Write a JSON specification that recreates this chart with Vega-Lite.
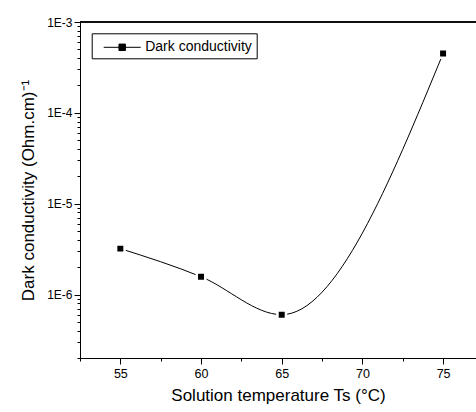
{
  "$schema": "https://vega.github.io/schema/vega-lite/v6.json",
  "autosize": {"type": "none"},
  "padding": {"left": 80, "top": 22, "right": 0, "bottom": 54},
  "width": 396,
  "height": 336,
  "background": "white",
  "data": {"values": [
    {"T": 55, "sigma": 3.2e-6},
    {"T": 60, "sigma": 1.57e-6},
    {"T": 65, "sigma": 6.0e-7},
    {"T": 75, "sigma": 4.5e-4}
  ]},
  "encoding": {
    "x": {
      "field": "T", "type": "quantitative",
      "scale": {"domain": [52.5, 77.04], "nice": false, "zero": false},
      "axis": {
        "title": "Solution temperature Ts (°C)",
        "values": [52.5, 55, 57.5, 60, 62.5, 65, 67.5, 70, 72.5, 75],
        "labelExpr": "datum.value % 5 == 0 ? datum.label : ''",
        "tickSize": {"condition": {"test": "datum.value % 5 == 0", "value": 6}, "value": 3},
        "grid": false,
        "domainColor": "black", "tickColor": "black", "labelColor": "black", "titleColor": "black",
        "labelFontSize": 12.5, "titleFontSize": 17, "titleFontWeight": "normal",
        "labelPadding": 3, "titlePadding": 8, "labelFlush": false, "labelOverlap": false
      }
    },
    "y": {
      "field": "sigma", "type": "quantitative",
      "scale": {"type": "log", "domain": [2e-7, 1e-3], "nice": false},
      "axis": {
        "title": "Dark conductivity (Ohm.cm)⁻¹",
        "values": [2e-7, 3e-7, 4e-7, 5e-7, 6e-7, 7e-7, 8e-7, 9e-7,
                   1e-6, 2e-6, 3e-6, 4e-6, 5e-6, 6e-6, 7e-6, 8e-6, 9e-6,
                   1e-5, 2e-5, 3e-5, 4e-5, 5e-5, 6e-5, 7e-5, 8e-5, 9e-5,
                   1e-4, 2e-4, 3e-4, 4e-4, 5e-4, 6e-4, 7e-4, 8e-4, 9e-4, 1e-3],
        "labelExpr": "abs(log(datum.value)/LN10 - round(log(datum.value)/LN10)) < 1e-6 ? '1E' + round(log(datum.value)/LN10) : ''",
        "tickSize": {"condition": {"test": "abs(log(datum.value)/LN10 - round(log(datum.value)/LN10)) < 1e-6", "value": 6}, "value": 3},
        "grid": false,
        "domainColor": "black", "tickColor": "black", "labelColor": "black", "titleColor": "black",
        "labelFontSize": 12, "titleFontSize": 17, "titleFontWeight": "normal",
        "labelPadding": 2, "titlePadding": 9, "labelFlush": false, "labelOverlap": false
      }
    }
  },
  "layer": [
    {
      "mark": {"type": "rule", "color": "black", "strokeWidth": 1},
      "encoding": {"y": {"datum": 0.001}, "x": null}
    },
    {
      "mark": {"type": "line", "interpolate": "monotone", "strokeWidth": 1},
      "encoding": {
        "color": {
          "datum": "Dark conductivity",
          "scale": {"range": ["black"]},
          "legend": {
            "title": null,
            "orient": "none",
            "legendX": 11.7,
            "legendY": 11.3,
            "strokeColor": "black",
            "padding": 4,
            "labelFontSize": 14,
            "labelColor": "black",
            "symbolType": "M-2,0H2M-0.35,-0.35H0.35V0.35H-0.35Z",
            "symbolSize": 342,
            "symbolStrokeWidth": 1,
            "symbolOffset": 16.5,
            "labelOffset": 13,
            "labelExpr": "datum.label + '\u00a0\u00a0'",
            "encode": {"symbols": {"update": {"fill": {"value": "black"}, "stroke": {"value": "black"}, "strokeWidth": {"value": 1}}}}
          }
        }
      }
    },
    {
      "mark": {"type": "point", "shape": "square", "filled": true, "size": 72, "fill": "black", "stroke": "white", "strokeWidth": 2.5, "opacity": 1, "strokeOpacity": 1}
    }
  ],
  "config": {
    "font": "Liberation Sans",
    "view": {"stroke": null}
  }
}
